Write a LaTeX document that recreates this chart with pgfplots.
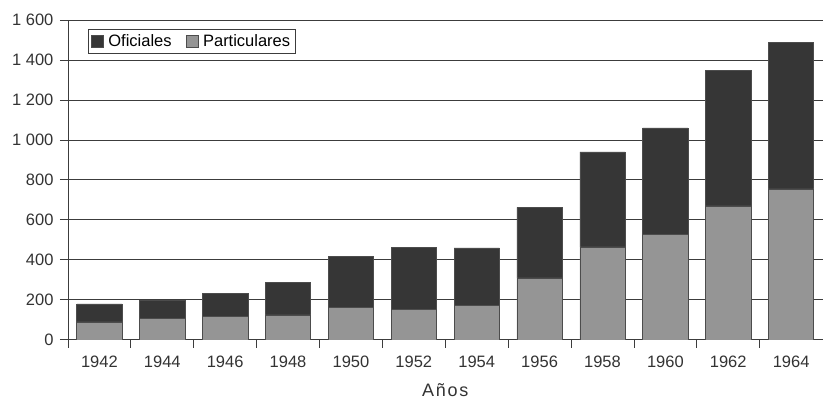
\documentclass[border=0pt]{standalone}
\usepackage{pgfplots}
\pgfplotsset{compat=1.18}
\usepackage{fontspec}
\setmainfont{Liberation Sans}
\definecolor{ofic}{HTML}{363636}
\definecolor{part}{HTML}{959595}
\definecolor{gridc}{HTML}{3C3C3C}
\begin{document}
\begin{tikzpicture}
\begin{axis}[
  scale only axis, width=755pt, height=320pt,
  xmin=-0.5, xmax=11.5, ymin=0, ymax=1600,
  ybar stacked, bar width=0.72,
  axis x line*=bottom, axis y line*=left,
  axis line style={gridc, line width=0.9pt},
  xtick={0,...,11},
  xticklabels={1942,1944,1946,1948,1950,1952,1954,1956,1958,1960,1962,1964},
  major x tick style={draw=none},
  minor xtick={-0.5,0.5,...,10.5},
  minor tick length=8pt,
  minor x tick style={gridc, line width=0.8pt},
  ytick={0,200,...,1600},
  yticklabels={0,200,400,600,800,1 000,1 200,1 400,1 600},
  ytick style={gridc, line width=0.8pt},
  major tick length=8pt,
  tick align=outside,
  ymajorgrids, grid style={gridc, line width=0.8pt},
  tick label style={font=\fontsize{16.5}{18}\selectfont, text=black!80},
  xticklabel shift={5pt},
  yticklabel shift={3pt},
  xlabel={\addfontfeatures{LetterSpace=10}Años},
  xlabel style={font=\fontsize{18}{20}\selectfont, text=black!80, yshift=-9pt},
  legend style={at={(0.026,0.972)}, anchor=north west, draw=gridc, line width=0.6pt,
    font=\fontsize{16.5}{18}\selectfont, legend columns=2,
    /tikz/every even column/.append style={column sep=12pt},
    inner sep=3pt, inner ysep=3.5pt},
  legend image code/.code={\draw[#1, line width=0.5pt] (3pt,-5.5pt) rectangle (15pt,6pt);},
  reverse legend,
  every axis plot/.append style={draw=black!85, line width=0.6pt},
]
\addplot[fill=part, draw=black!70] coordinates {(0,90) (1,108) (2,117) (3,125) (4,162) (5,152) (6,172) (7,310) (8,465) (9,528) (10,670) (11,755)};
\addplot[fill=ofic, draw=black!70] coordinates {(0,90) (1,89) (2,116) (3,162) (4,255) (5,310) (6,288) (7,352) (8,475) (9,532) (10,677) (11,733)};
\legend{\hspace{3pt}Particulares,\hspace{3pt}Oficiales}
\end{axis}
\path (current axis.south west) ++(-68pt,-61pt);
\path (current axis.south west) ++(755pt,340pt);
\end{tikzpicture}
\end{document}
